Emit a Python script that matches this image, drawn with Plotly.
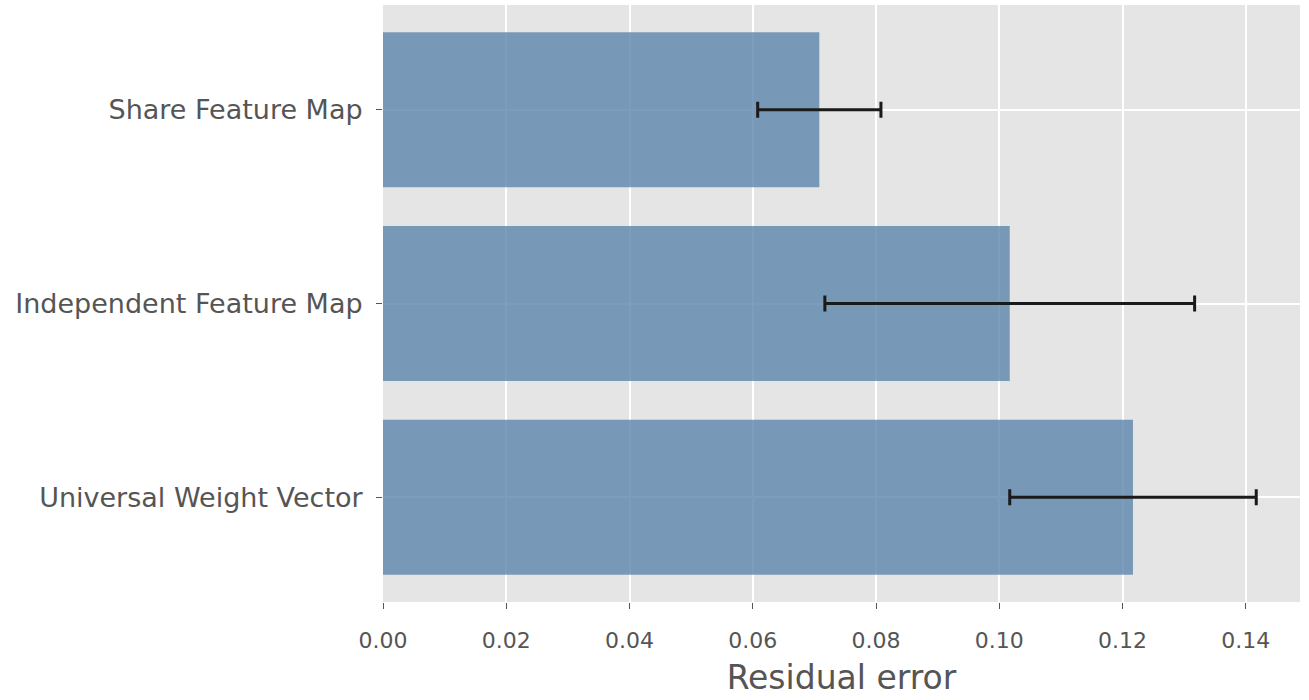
import plotly.graph_objects as go

categories = ["Share Feature Map", "Independent Feature Map", "Universal Weight Vector"]
values = [0.0708, 0.1017, 0.1217]
errors = [0.0100, 0.0300, 0.0200]
x_ticks = [0.00, 0.02, 0.04, 0.06, 0.08, 0.10, 0.12, 0.14]
x_tick_labels = ["0.00", "0.02", "0.04", "0.06", "0.08", "0.10", "0.12", "0.14"]

fig = go.Figure()
fig.add_trace(go.Bar(
    y=categories, x=values, orientation="h", width=0.8,
    marker=dict(color="rgba(93,133,173,0.8)", line=dict(width=0)),
    error_x=dict(type="data", array=errors, visible=True, color="#1a1a1a",
                 thickness=3, width=8),
))

fig.update_layout(
    width=1309, height=700,
    margin=dict(l=383, r=9, t=5, b=98),
    paper_bgcolor="white", plot_bgcolor="#E5E5E5",
    font=dict(family="DejaVu Sans", color="#555555", size=20),
    showlegend=False,
    bargap=0.2,
)
fig.update_xaxes(
    range=[0, 0.1488], tickvals=x_ticks, ticktext=x_tick_labels,
    showgrid=True, gridcolor="white", gridwidth=1.5, zeroline=False,
    ticks="outside", ticklen=6, tickcolor="#555555", tickwidth=1.2,
    ticklabelstandoff=13,
    tickfont=dict(size=22, color="#555555"),
    title=dict(text="Residual error", font=dict(size=33, color="#555555"), standoff=13),
)
fig.update_yaxes(
    categoryorder="array", categoryarray=categories[::-1],
    range=[-0.54, 2.54],
    showgrid=True, gridcolor="white", gridwidth=1.5, zeroline=False,
    ticks="outside", ticklen=6, tickcolor="#555555", tickwidth=1.2,
    ticklabelstandoff=8,
    tickfont=dict(size=27, color="#555555"),
)

fig.write_html("out.html")
